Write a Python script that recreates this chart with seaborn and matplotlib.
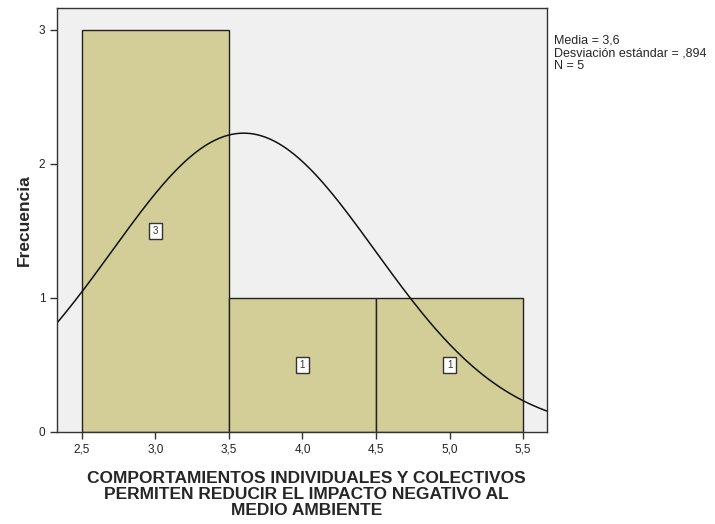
import numpy as np
import pandas as pd
import matplotlib
matplotlib.use("Agg")
import matplotlib.pyplot as plt
import seaborn as sns

# respuestas (N = 5)
valores = [3, 3, 3, 4, 5]
bordes = [2.5, 3.5, 4.5, 5.5]
xticks = [2.5, 3.0, 3.5, 4.0, 4.5, 5.0, 5.5]
yticks = [0, 1, 2, 3]

sns.set_style("white")
plt.rcParams["font.family"] = ["Liberation Sans", "DejaVu Sans"]

df = pd.DataFrame({"v": valores})
media = np.mean(valores)
sd = np.std(valores, ddof=1)
n = len(valores)

fig = plt.figure(figsize=(7.15, 5.24), dpi=100)
ax = fig.add_axes([0.0797, 0.1756, 0.6853, 0.8091])
ax.set_facecolor("#F0F0F0")

sns.histplot(data=df, x="v", bins=bordes, color="#D3CE97", alpha=1,
             edgecolor="#222222", linewidth=1.0, ax=ax)

# etiquetas de frecuencia en cada barra
for p in ax.patches:
    h = p.get_height()
    if h > 0:
        ax.text(p.get_x() + p.get_width() / 2, h / 2, f"{int(h)}",
                ha="center", va="center", fontsize=7, color="#333333",
                bbox=dict(boxstyle="square,pad=0.35", fc="white", ec="#333333", lw=1.0))

# curva normal
xs = np.linspace(2.2, 5.8, 300)
ys = n * 1.0 / (sd * np.sqrt(2 * np.pi)) * np.exp(-0.5 * ((xs - media) / sd) ** 2)
ax.plot(xs, ys, color="#111111", lw=1.1)

ax.set_xlim(2.33, 5.663)
ax.set_ylim(0, 3.164)
ax.set_xticks(xticks)
ax.set_xticklabels([f"{t:.1f}".replace(".", ",") for t in xticks])
ax.set_yticks(yticks)
ax.tick_params(axis="both", direction="out", length=5, width=1, color="#333333",
               labelsize=8.5, labelcolor="#222222", left=True, bottom=True)
for s in ax.spines.values():
    s.set_color("#333333")
    s.set_linewidth(1)

ax.set_ylabel("Frecuencia", fontsize=12.5, fontweight="bold", labelpad=5)
ax.set_xlabel("COMPORTAMIENTOS INDIVIDUALES Y COLECTIVOS\nPERMITEN REDUCIR EL IMPACTO NEGATIVO AL\nMEDIO AMBIENTE",
              fontsize=12.5, fontweight="bold", linespacing=1.07, labelpad=11)
ax.xaxis.label.set_x(0.509)

fig.text(0.775, 0.934, f"Media = {media:.1f}".replace(".", ",")
         + f"\nDesviación estándar = {sd:.3f}".replace("0.", ",")
         + f"\nN = {n}", fontsize=9, va="top", linespacing=1.08)

fig.savefig("out.png", dpi=100)
